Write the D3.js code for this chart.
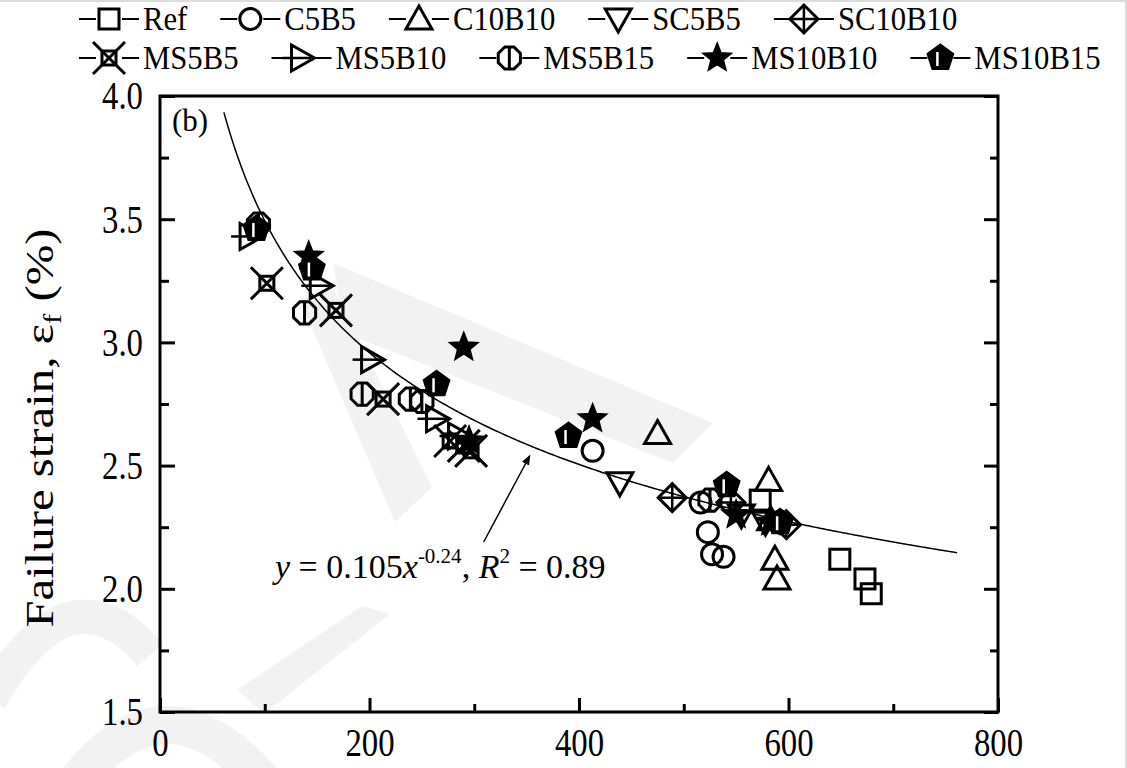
<!DOCTYPE html>
<html><head><meta charset="utf-8">
<script src="https://cdn.jsdelivr.net/npm/d3@7"></script>
<style>
body{margin:0;background:#fff}
svg{display:block}
text{font-family:"Liberation Serif","Times New Roman",serif;fill:#000}
</style>
</head><body>
<svg id="c" width="1127" height="768"></svg>
<script>
// ---------- data ----------
const xMajorTicks = [0, 200, 400, 600, 800];
const xMinorTicks = [100, 300, 500, 700];
const yMajorTicks = [1.5, 2.0, 2.5, 3.0, 3.5, 4.0];
const yMinorTicks = [1.75, 2.25, 2.75, 3.25, 3.75];

const seriesNames = ["Ref","C5B5","C10B10","SC5B5","SC10B10","MS5B5","MS5B10","MS5B15","MS10B10","MS10B15"];
const seriesShapes = ["square","circle","triUp","triDown","diamondPlus","xSquare","triRight","circleBar","star","pentagon"];

const refPts     = [[573,2.36],[649,2.12],[673,2.04],[679,1.98]];
const c5b5Pts    = [[413,2.56],[516,2.35],[523,2.23],[527,2.14],[538,2.13]];
const c10b10Pts  = [[475,2.63],[581,2.44],[587,2.12],[589,2.04],[583,2.28]];
const sc5b5Pts   = [[439,2.43],[555,2.30],[578,2.27]];
const sc10b10Pts = [[489,2.37],[545,2.35],[598,2.26]];
const ms5b5Pts   = [[102,3.24],[168,3.13],[213,2.77],[277,2.60],[290,2.58],[297,2.56]];
const ms5b10Pts  = [[86,3.43],[153,3.23],[202,2.93],[264,2.69],[285,2.62]];
const ms5b15Pts  = [[94,3.48],[138,3.12],[193,2.79],[239,2.77],[250,2.76],[525,2.36]];
const ms10b10Pts = [[142,3.35],[290,2.98],[413,2.69],[295,2.60],[550,2.30],[583,2.27]];
const ms10b15Pts = [[92,3.46],[145,3.30],[264,2.83],[390,2.62],[541,2.42],[592,2.27]];
const seriesData = [refPts,c5b5Pts,c10b10Pts,sc5b5Pts,sc10b10Pts,ms5b5Pts,ms5b10Pts,ms5b15Pts,ms10b10Pts,ms10b15Pts];

// fitted power law as drawn: y = a * x^b  (label text as printed in figure)
const fitA = 10.55, fitB = -0.24, fitXRange = [61, 762];
const equationParts = {y:"y", eq:" = 0.105", x:"x", exp:"-0.24", sep:", ", R:"R", r2:"2", val:" = 0.89"};
const arrowFrom = [309, 2.19], arrowTo = [353, 2.54];

// ---------- layout ----------
const svg = d3.select("#c");
const W = 1127, H = 768;
const SX = 0.82; // horizontal compression of the figure's serif text
const x = d3.scaleLinear().domain([0, 800]).range([160, 998]);
const y = d3.scaleLinear().domain([1.5, 4.0]).range([712, 96]);

// faint picture border
svg.append("line").attr("x1",0).attr("x2",W).attr("y1",1).attr("y2",1).attr("stroke","#dcdcdc").attr("stroke-width",2);
svg.append("line").attr("x1",W-1).attr("x2",W-1).attr("y1",0).attr("y2",H).attr("stroke","#dcdcdc").attr("stroke-width",2);

// watermark (light grey decoration)
const wm = svg.append("g").attr("fill","#f2f2f2");
wm.append("polygon").attr("points","333,263 713,423 673,463 345,333");
wm.append("polygon").attr("points","300,300 335,290 432,487 395,522");
wm.append("polygon").attr("points","237,690 362,606 390,614 264,714");
wm.append("path").attr("d","M-10,700 Q70,560 150,655").attr("fill","none").attr("stroke","#f2f2f2").attr("stroke-width",34);
wm.append("path").attr("d","M70,790 Q165,660 270,790").attr("fill","none").attr("stroke","#f2f2f2").attr("stroke-width",38);

// ---------- markers ----------
function starPath(ro, ri){
  let p=[];
  for(let i=0;i<10;i++){const r=i%2?ri:ro;const a=-Math.PI/2+i*Math.PI/5;p.push([r*Math.cos(a),r*Math.sin(a)]);}
  return "M"+p.map(d=>d.join(",")).join("L")+"Z";
}
function polyPath(n, r, rot){
  let p=[];
  for(let i=0;i<n;i++){const a=rot+i*2*Math.PI/n;p.push([r*Math.cos(a),r*Math.sin(a)]);}
  return "M"+p.map(d=>d.join(",")).join("L")+"Z";
}
function drawMarker(g, shape){
  const sw = 3;
  const o = {fill:"none", stroke:"#000", "stroke-width":sw};
  const ap = (sel, attrs)=>{for(const k in attrs) sel.attr(k, attrs[k]); return sel;};
  switch(shape){
    case "square": ap(g.append("rect").attr("x",-10).attr("y",-10).attr("width",20).attr("height",20), o); break;
    case "circle": ap(g.append("circle").attr("r",10.5), o); break;
    case "triUp": ap(g.append("path").attr("d","M0,-13L13,10L-13,10Z"), o); break;
    case "triDown": ap(g.append("path").attr("d","M0,13L13,-10L-13,-10Z"), o); break;
    case "diamondPlus":
      ap(g.append("path").attr("d","M0,-14L14,0L0,14L-14,0Z"), o);
      ap(g.append("path").attr("d","M0,-14V14M-14,0H14"), {stroke:"#000","stroke-width":2.5}); break;
    case "xSquare":
      ap(g.append("rect").attr("x",-7).attr("y",-7).attr("width",14).attr("height",14), o);
      ap(g.append("path").attr("d","M-16,-16L16,16M16,-16L-16,16"), o); break;
    case "triRight":
      ap(g.append("path").attr("d","M-10,-13L13,0L-10,13Z"), o);
      ap(g.append("path").attr("d","M-19,0H10"), {stroke:"#000","stroke-width":2.5}); break;
    case "circleBar":
      ap(g.append("path").attr("d", polyPath(8, 12, Math.PI/8)), o);
      ap(g.append("path").attr("d","M0,-12V12"), {stroke:"#000","stroke-width":3}); break;
    case "star":
      g.append("path").attr("d", starPath(15, 6.5)).attr("fill","#000").attr("stroke","#000").attr("stroke-width",1.5); break;
    case "pentagon":
      g.append("path").attr("d", polyPath(5, 13.5, -Math.PI/2)).attr("fill","#000").attr("stroke","#000").attr("stroke-width",2);
      g.append("path").attr("d","M-3,-6V8").attr("stroke","#fff").attr("stroke-width",2.5); break;
  }
}

// ---------- axes ----------
const axes = svg.append("g");
axes.append("g").attr("transform",`translate(0,${y(1.5)})`)
  .call(d3.axisBottom(x).tickValues(xMajorTicks).tickSize(-14).tickPadding(16).tickFormat(d3.format("d")));
axes.append("g").attr("transform",`translate(0,${y(1.5)})`)
  .call(d3.axisBottom(x).tickValues(xMinorTicks).tickSize(-8).tickFormat(""));
const lMaj = axes.append("g").attr("transform",`translate(${x(0)},0)`)
  .call(d3.axisLeft(y).tickValues(yMajorTicks).tickSize(-15).tickPadding(16).tickFormat(d3.format(".1f")));
axes.append("g").attr("transform",`translate(${x(0)},0)`)
  .call(d3.axisLeft(y).tickValues(yMinorTicks).tickSize(-9).tickFormat(""));
axes.append("g").attr("transform",`translate(${x(800)},0)`)
  .call(d3.axisRight(y).tickValues(yMajorTicks).tickSize(-14).tickFormat(""));
axes.append("g").attr("transform",`translate(${x(800)},0)`)
  .call(d3.axisRight(y).tickValues(yMinorTicks).tickSize(-8).tickFormat(""));

axes.selectAll(".domain").remove();
axes.selectAll(".tick line").attr("stroke","#000").attr("stroke-width",3);
axes.selectAll(".tick text").attr("font-size",40).attr("fill","#000")
  .attr("transform",`scale(${SX},1)`);
lMaj.selectAll(".tick text").attr("x", -17/SX);

// frame
svg.append("rect").attr("x",x(0)).attr("y",y(4)).attr("width",x(800)-x(0)).attr("height",y(1.5)-y(4))
  .attr("fill","none").attr("stroke","#000").attr("stroke-width",3);

// y title (stretched along its length, as in the figure)
const yt = svg.append("text").attr("transform",`translate(53,428) rotate(-90) scale(1.22,1)`)
  .attr("text-anchor","middle").attr("font-size",40);
yt.append("tspan").text("Failure strain, ε");
yt.append("tspan").attr("font-size",25).attr("dy",8).text("f");
yt.append("tspan").attr("dy",-8).text(" (%)");

// panel label
svg.append("text").attr("x",172).attr("y",131).attr("font-size",31).text("(b)");

// ---------- fit curve ----------
const fitPts = d3.range(fitXRange[0], fitXRange[1]+0.1, 2).map(v=>[v, fitA*Math.pow(v, fitB)]);
svg.append("path").datum(fitPts)
  .attr("d", d3.line().x(d=>x(d[0])).y(d=>y(d[1])))
  .attr("fill","none").attr("stroke","#000").attr("stroke-width",1.5);

// ---------- arrow + equation ----------
svg.append("defs").append("marker").attr("id","ah").attr("viewBox","0 0 10 10").attr("refX",9).attr("refY",5)
  .attr("markerWidth",10).attr("markerHeight",12).attr("markerUnits","userSpaceOnUse").attr("orient","auto")
  .append("path").attr("d","M0,1L10,5L0,9Z").attr("fill","#000");
svg.append("line").attr("x1",x(arrowFrom[0])).attr("y1",y(arrowFrom[1])).attr("x2",x(arrowTo[0])).attr("y2",y(arrowTo[1]))
  .attr("stroke","#000").attr("stroke-width",1.5).attr("marker-end","url(#ah)");

const eq = svg.append("text").attr("x",275).attr("y",578).attr("font-size",34);
eq.append("tspan").attr("font-style","italic").text(equationParts.y);
eq.append("tspan").text(equationParts.eq);
eq.append("tspan").attr("font-style","italic").text(equationParts.x);
eq.append("tspan").attr("font-size",21).attr("dy",-15).text(equationParts.exp);
eq.append("tspan").attr("dy",15).text(equationParts.sep);
eq.append("tspan").attr("font-style","italic").text(equationParts.R);
eq.append("tspan").attr("font-size",21).attr("dy",-15).text(equationParts.r2);
eq.append("tspan").attr("dy",15).text(equationParts.val);

// ---------- points ----------
const pts = svg.append("g");
seriesData.forEach((arr, si)=>{
  arr.forEach(d=>{
    const g = pts.append("g").attr("transform",`translate(${x(d[0])},${y(d[1])})`);
    drawMarker(g, seriesShapes[si]);
  });
});

// ---------- legend ----------
const legRows = [[0,1,2,3,4],[5,6,7,8,9]];
const legY = [19, 58];
const legFont = 33, LSX = 0.93, lineLen = 60, textGap = 4, itemGap = 33;
const leg = svg.append("g");
legRows.forEach((row, ri)=>{
  let cx = 79;
  row.forEach(si=>{
    const g = leg.append("g");
    g.append("line").attr("x1",cx).attr("x2",cx+lineLen).attr("y1",legY[ri]).attr("y2",legY[ri]).attr("stroke","#000").attr("stroke-width",2);
    const m = g.append("g").attr("transform",`translate(${cx+lineLen/2},${legY[ri]})`);
    m.append("rect").attr("x",-13).attr("y",-14).attr("width",26).attr("height",28).attr("fill","#fff");
    drawMarker(m, seriesShapes[si]);
    const t = g.append("text").attr("transform",`translate(${cx+lineLen+textGap},${legY[ri]+11}) scale(${LSX},1)`)
      .attr("font-size",legFont).text(seriesNames[si]);
    cx = cx + lineLen + textGap + t.node().getComputedTextLength()*LSX + itemGap;
  });
});
</script>
</body></html>
